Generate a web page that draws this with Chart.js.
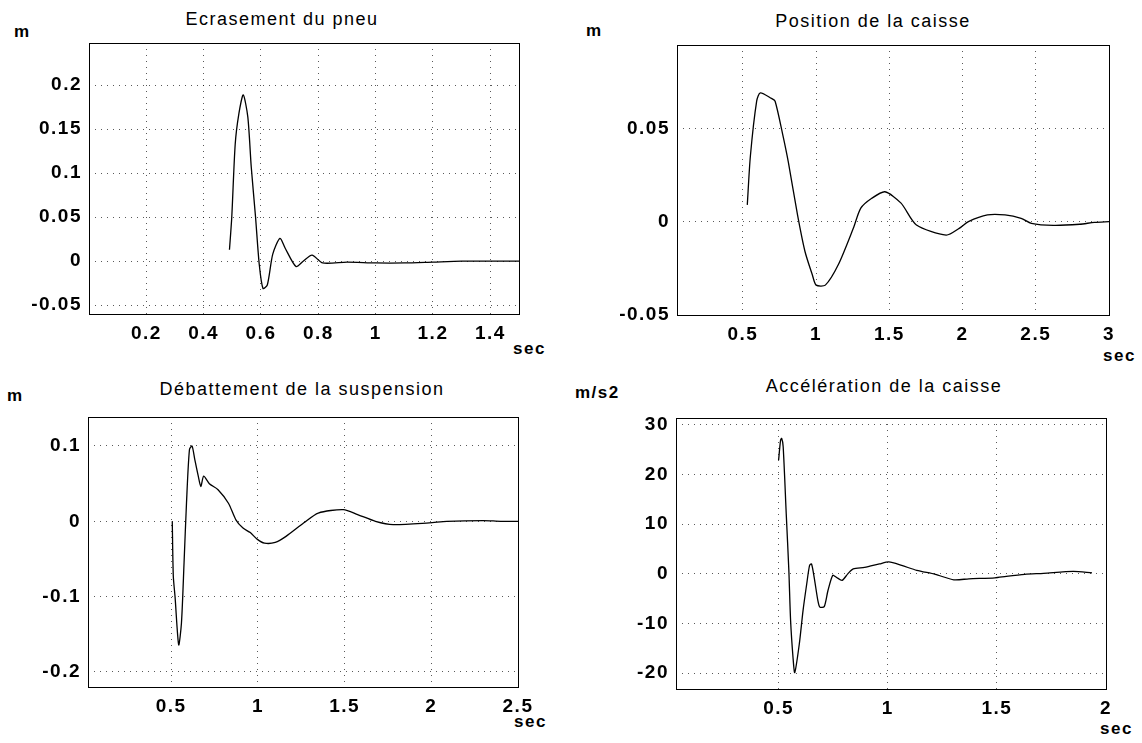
<!DOCTYPE html>
<html>
<head>
<meta charset="utf-8">
<script src="https://cdn.jsdelivr.net/npm/chart.js@4.4.1/dist/chart.umd.min.js"></script>
<style>
body { margin:0; background:#fff; width:1142px; height:743px; position:relative; overflow:hidden; font-family:"Liberation Sans", Arial, sans-serif; }
canvas { position:absolute; }
.ttl { position:absolute; font-size:18px; letter-spacing:1.5px; color:#000; white-space:nowrap; transform:translateX(-50%); }
.unit { position:absolute; font-size:17px; font-weight:bold; letter-spacing:1.5px; color:#000; }
</style>
</head>
<body>
<div class="ttl" style="left:282px;top:9px">Ecrasement du pneu</div>
<div class="ttl" style="left:873px;top:11px">Position de la caisse</div>
<div class="ttl" style="left:302px;top:379px">Débattement de la suspension</div>
<div class="ttl" style="left:884px;top:376px">Accélération de la caisse</div>
<div class="unit" style="left:14px;top:22px">m</div>
<div class="unit" style="left:586px;top:21px">m</div>
<div class="unit" style="left:7px;top:386px">m</div>
<div class="unit" style="left:575px;top:383px">m/s2</div>
<div class="unit" style="left:513px;top:339px">sec</div>
<div class="unit" style="left:1103px;top:346px">sec</div>
<div class="unit" style="left:514px;top:712px">sec</div>
<div class="unit" style="left:1100px;top:719px">sec</div>

<canvas id="c1"></canvas>
<canvas id="c2"></canvas>
<canvas id="c3"></canvas>
<canvas id="c4"></canvas>

<script>
// Ecrasement du pneu (m)
var t1 = [0.49,0.498,0.51,0.523,0.538,0.554,0.566,0.581,0.594,0.607,0.622,0.641,0.666,0.684,0.722,0.747,0.778,0.815,0.9,1.0,1.1,1.2,1.3,1.4,1.5];
var y1 = [0.013,0.05,0.133,0.168,0.189,0.164,0.107,0.05,-0.004,-0.031,-0.027,0.008,0.026,0.015,-0.006,0,0.007,-0.002,-0.001,-0.002,-0.002,-0.001,0,0,0];
var xt1 = [0.2,0.4,0.6,0.8,1,1.2,1.4];
var xl1 = ['0.2','0.4','0.6','0.8','1','1.2','1.4'];
var yt1 = [-0.05,0,0.05,0.1,0.15,0.2];
var yl1 = ['-0.05','0','0.05','0.1','0.15','0.2'];

// Position de la caisse (m)
var t2 = [0.53,0.551,0.594,0.619,0.695,0.72,0.772,0.81,0.873,0.924,0.975,1.0,1.063,1.152,1.254,1.305,1.38,1.47,1.58,1.685,1.888,1.977,2.04,2.17,2.29,2.4,2.47,2.62,2.8,2.9,3.0];
var y2 = [0.009,0.035,0.0645,0.069,0.066,0.0645,0.0466,0.032,0.0036,-0.016,-0.0287,-0.034,-0.034,-0.023,-0.0036,0.0072,0.0125,0.016,0.0099,-0.0018,-0.0072,-0.0036,0,0.0036,0.0036,0.0018,-0.0009,-0.002,-0.0014,-0.0004,0];
var xt2 = [0.5,1,1.5,2,2.5,3];
var xl2 = ['0.5','1','1.5','2','2.5','3'];
var yt2 = [-0.05,0,0.05];
var yl2 = ['-0.05','0','0.05'];

// Debattement de la suspension (m)
var t3 = [0.506,0.512,0.522,0.543,0.559,0.574,0.588,0.605,0.62,0.636,0.656,0.671,0.687,0.72,0.77,0.83,0.873,0.914,0.956,0.997,1.038,1.1,1.162,1.265,1.348,1.493,1.575,1.678,1.78,1.988,2.09,2.3,2.4,2.5];
var y3 = [0,-0.073,-0.1,-0.164,-0.135,-0.055,0.024,0.095,0.1,0.082,0.06,0.046,0.06,0.05,0.042,0.024,0.002,-0.009,-0.015,-0.024,-0.029,-0.028,-0.02,-0.002,0.011,0.0155,0.009,0,-0.0044,-0.002,0,0.001,0,0];
var xt3 = [0.5,1,1.5,2,2.5];
var xl3 = ['0.5','1','1.5','2','2.5'];
var yt3 = [-0.2,-0.1,0,0.1];
var yl3 = ['-0.2','-0.1','0','0.1'];

// Acceleration de la caisse (m/s2)
var t4 = [0.5,0.509,0.514,0.521,0.535,0.547,0.555,0.566,0.574,0.595,0.612,0.629,0.642,0.651,0.663,0.68,0.689,0.709,0.726,0.748,0.765,0.791,0.817,0.842,0.894,0.962,1.005,1.064,1.133,1.218,1.303,1.372,1.491,1.543,1.628,1.714,1.85,1.936];
var y4 = [22.9,26.9,27.3,25.6,12.1,0.7,-9.4,-16.8,-19.9,-14.1,-7.4,-2.0,1.7,2.0,-0.7,-5.4,-6.7,-6.6,-3.4,-0.3,-0.7,-1.3,0,1.0,1.3,2.0,2.4,1.7,0.7,-0.1,-1.2,-1.0,-0.8,-0.5,-0.1,0.1,0.5,0.2];
var xt4 = [0.5,1,1.5,2];
var xl4 = ['0.5','1','1.5','2'];
var yt4 = [-20,-10,0,10,20,30];
var yl4 = ['-20','-10','0','10','20','30'];

// axis frame around the plot area
const boxPlugin = {
  id: 'box',
  beforeDraw(chart) { chart.ctx.letterSpacing = '1.5px'; },
  afterDraw(chart) {
    const a = chart.chartArea, ctx = chart.ctx;
    ctx.save();
    ctx.strokeStyle = '#000';
    ctx.lineWidth = 1;
    ctx.strokeRect(Math.round(a.left)+0.5, Math.round(a.top)+0.5, Math.round(a.right-a.left), Math.round(a.bottom-a.top));
    ctx.restore();
  }
};

const YW = 80, XH = 34, PT = 28, PR = 30;

function panel(id, area, t, y, xr, yr, xt, xl, yt, yl) {
  const cv = document.getElementById(id);
  const w = area[2]-area[0] + YW + PR;
  const h = area[3]-area[1] + PT + XH;
  cv.style.left = (area[0]-YW) + 'px';
  cv.style.top = (area[1]-PT) + 'px';
  cv.width = w; cv.height = h;
  cv.style.width = w + 'px'; cv.style.height = h + 'px';
  const pts = t.map((v, i) => ({x: v, y: y[i]}));
  const grid = { color: 'rgba(0,0,0,0.65)', lineWidth: 1, drawTicks: false };
  const font = { family: 'Liberation Sans', size: 19, weight: 'bold' };
  new Chart(cv, {
    type: 'line',
    data: { datasets: [{ data: pts, borderColor: '#000', borderWidth: 1.3, pointRadius: 0, tension: 0.25, fill: false }] },
    options: {
      responsive: false, animation: false,
      layout: { padding: { top: PT, right: PR, left: 0, bottom: 0 } },
      plugins: { legend: { display: false }, tooltip: { enabled: false } },
      scales: {
        x: {
          type: 'linear', min: xr[0], max: xr[1],
          grid: grid, border: { display: false, dash: [1,5] },
          afterBuildTicks: s => { s.ticks = xt.map(v => ({value: v})); },
          afterFit: s => { s.height = XH; },
          ticks: { color: '#000', font: font, padding: 8, maxRotation: 0, autoSkip: false,
                   callback: v => xl[xt.indexOf(v)] }
        },
        y: {
          type: 'linear', min: yr[0], max: yr[1],
          grid: grid, border: { display: false, dash: [1,5] },
          afterBuildTicks: s => { s.ticks = yt.map(v => ({value: v})); },
          afterFit: s => { s.width = YW; },
          ticks: { color: '#000', font: font, padding: 7, autoSkip: false,
                   callback: v => yl[yt.indexOf(v)] }
        }
      }
    },
    plugins: [boxPlugin]
  });
}

panel('c1', [89,43,519,314], t1, y1, [0,1.5], [-0.06,0.248], xt1, xl1, yt1, yl1);
panel('c2', [677,45,1109,315], t2, y2, [0.05,3], [-0.05,0.0946], xt2, xl2, yt2, yl2);
panel('c3', [88,417,518,687], t3, y3, [0.02,2.5], [-0.22,0.1385], xt3, xl3, yt3, yl3);
panel('c4', [676,418,1106,689], t4, y4, [0.03,2], [-23.2,31.4], xt4, xl4, yt4, yl4);
</script>
</body>
</html>
